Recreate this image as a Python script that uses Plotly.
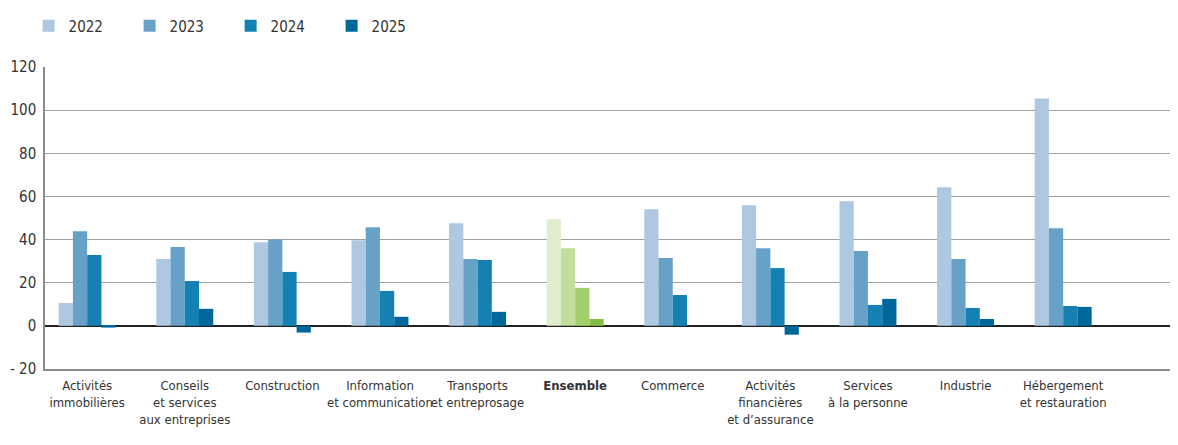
import plotly.graph_objects as go

categories = ["Activités immobilières", "Conseils et services aux entreprises", "Construction",
              "Information et communication", "Transports et entreposage", "Ensemble", "Commerce",
              "Activités financières et d'assurance", "Services à la personne", "Industrie",
              "Hébergement et restauration"]
tick_labels = ["Activités<br>immobilières", "Conseils<br>et services<br>aux entreprises", "Construction",
               "Information<br>et communication", "Transports<br>et entreprosage", "<b>Ensemble</b>", "Commerce",
               "Activités<br>financières<br>et d’assurance", "Services<br>à la personne", "Industrie",
               "Hébergement<br>et restauration"]
years = ["2022", "2023", "2024", "2025"]
v2022 = [10.6, 31.0, 38.8, 39.7, 47.6, 49.4, 54.0, 55.9, 57.8, 64.2, 105.4]
v2023 = [43.9, 36.5, 40.2, 45.7, 31.0, 36.0, 31.4, 36.0, 34.7, 31.0, 45.3]
v2024 = [32.8, 20.8, 25.0, 16.2, 30.5, 17.6, 14.3, 26.8, 9.7, 8.3, 9.2]
v2025 = [-0.8, 7.9, -3.1, 4.2, 6.5, 3.2, 0.0, -4.1, 12.5, 3.2, 8.8]
series = [v2022, v2023, v2024, v2025]
y_ticks = [-20, 0, 20, 40, 60, 80, 100, 120]
y_ticktext = ["- 20", "0", "20", "40", "60", "80", "100", "120"]

blue = ["#afc8e1", "#68a1c8", "#1581b3", "#00679b"]
green = ["#dfeccd", "#c0de9c", "#a0cf6c", "#80bf41"]
highlight = "Ensemble"

FONT = "DejaVu Sans Condensed, sans-serif"

fig = go.Figure()
for i, (yr, vals) in enumerate(zip(years, series)):
    colors = [green[i] if c == highlight else blue[i] for c in categories]
    fig.add_trace(go.Bar(x=categories, y=vals, name=yr, marker=dict(color=colors, line=dict(width=0))))

# page body has an 8px margin: figure is sized/offset to compensate
W, H = 1178, 429
L, R, T, B = 37, 0, 59, 68
PX_PER_CAT = 97.6
x_lo = -0.432
x_hi = x_lo + (W - L - R) / PX_PER_CAT

fig.update_layout(
    width=W, height=H,
    margin=dict(l=L, r=R, t=T, b=B),
    paper_bgcolor="white", plot_bgcolor="white",
    barmode="group", bargap=0.416, bargroupgap=0,
    font=dict(family=FONT, size=13, color="#333333"),
    showlegend=True,
    legend=dict(orientation="h", xref="container", yref="container",
                x=0.0175, xanchor="left", y=1 - 18 / H, yanchor="middle",
                font=dict(size=15, color="#333333"), itemwidth=30,
                entrywidth=56, entrywidthmode="pixels", traceorder="normal"),
    xaxis=dict(range=[x_lo, x_hi], tickvals=categories, ticktext=tick_labels,
               showline=True, linecolor="#8a8a8a", linewidth=1.5, showgrid=False,
               ticks="", tickangle=0, tickfont=dict(size=13, color="#333333"), zeroline=False,
               ticklabelstandoff=4, automargin=False),
    yaxis=dict(range=[-20, 120], tickvals=y_ticks, ticktext=y_ticktext,
               showline=True, linecolor="#8a8a8a", linewidth=1.5,
               showgrid=True, gridcolor="#a0a0a0", gridwidth=1.3,
               zeroline=True, zerolinecolor="#222222", zerolinewidth=1.6,
               ticks="", tickfont=dict(size=15, color="#333333"), automargin=False,
               ticklabelstandoff=4),
)

fig.write_html("out.html")
